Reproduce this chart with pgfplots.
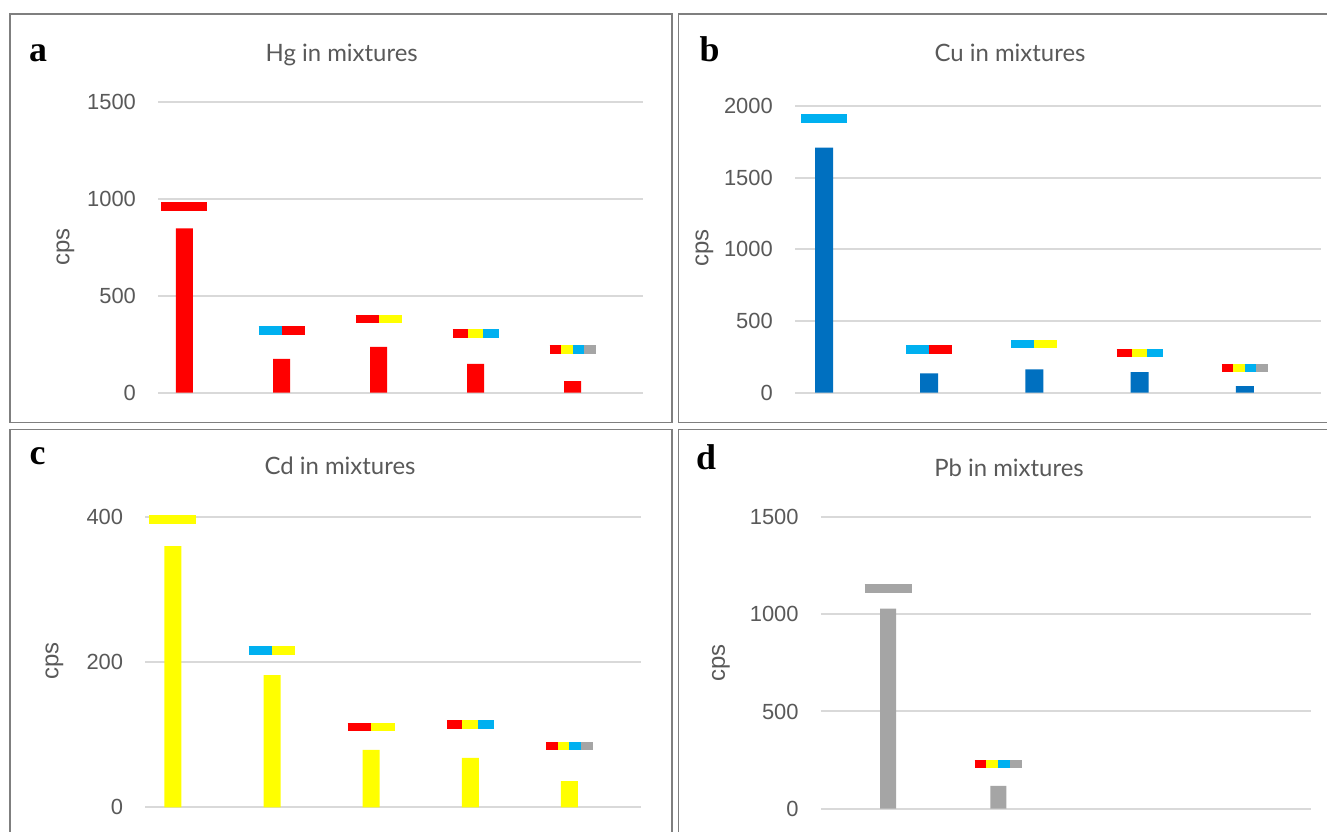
\documentclass[border=0pt]{standalone}
\usepackage{pgfplots}
\pgfplotsset{compat=1.18}
\usepackage{fontspec}
\setmainfont{Liberation Sans}
\newfontfamily\titlefont{Lato}
\newfontfamily\letterfont{Liberation Serif}

\definecolor{hgred}{HTML}{FF0000}
\definecolor{cdyellow}{HTML}{FFFF00}
\definecolor{cucyan}{HTML}{00B0F0}
\definecolor{pbgray}{HTML}{A5A5A5}
\definecolor{cublue}{HTML}{0070C0}
\definecolor{gridgray}{HTML}{D9D9D9}
\definecolor{textgray}{HTML}{595959}
\definecolor{boxgray}{HTML}{7F7F7F}

\pgfplotsset{
  panel/.style={
    scale only axis,
    clip=false,
    axis line style={draw=none},
    major tick style={draw=none},
    xtick=\empty,
    ymin=0,
    ymajorgrids,
    grid style={color=gridgray, line width=2bp},
    yticklabel style={font=\fontsize{22}{24}\selectfont, text=textgray,
      anchor=east, inner sep=0pt, xshift=-22bp},
    /pgf/number format/assume math mode=true,
    /pgf/number format/1000 sep={},
  },
  strip/.style={line width=8.5bp, line cap=butt, #1},
  column/.style={ybar, bar shift=0pt, draw=none, fill=#1},
}

\begin{document}
\begin{tikzpicture}
\useasboundingbox (0,0) rectangle (1327bp,832bp);
\clip (0,0) rectangle (1327bp,832bp);
\fill[white] (0,0) rectangle (1327bp,832bp);

% panel frames
\draw[boxgray, line width=1.5bp] (10bp,818bp) rectangle (672bp,409.3bp);
\draw[boxgray, line width=1.5bp] (678.7bp,818bp) rectangle (1345bp,409.3bp);
\draw[boxgray, line width=1.5bp] (10bp,402.7bp) rectangle (672bp,-20bp);
\draw[boxgray, line width=1.5bp] (678.7bp,402.7bp) rectangle (1345bp,-20bp);

% ---------------- a: Hg ----------------
\begin{axis}[panel, at={(158.1bp,439.3bp)}, anchor=south west,
  width=485.1bp, height=291bp, xmin=0.728, xmax=5.728,
  ymax=1500, ytick={0,500,1000,1500}]
\addplot[column=hgred, bar width=17bp] coordinates {(1,847) (2,174) (3,236) (4,148) (5,60)};
\addplot[strip=hgred]    coordinates {(0.763,961) (1.237,961)};
\addplot[strip=cucyan]   coordinates {(1.763,321) (2.000,321)};
\addplot[strip=hgred]    coordinates {(2.000,321) (2.237,321)};
\addplot[strip=hgred]    coordinates {(2.763,381) (3.000,381)};
\addplot[strip=cdyellow] coordinates {(3.000,381) (3.237,381)};
\addplot[strip=hgred]    coordinates {(3.763,306) (3.921,306)};
\addplot[strip=cdyellow] coordinates {(3.921,306) (4.079,306)};
\addplot[strip=cucyan]   coordinates {(4.079,306) (4.237,306)};
\addplot[strip=hgred]    coordinates {(4.763,223) (4.882,223)};
\addplot[strip=cdyellow] coordinates {(4.882,223) (5.000,223)};
\addplot[strip=cucyan]   coordinates {(5.000,223) (5.118,223)};
\addplot[strip=pbgray]   coordinates {(5.118,223) (5.237,223)};
\end{axis}

% ---------------- b: Cu ----------------
\begin{axis}[panel, at={(795bp,439.3bp)}, anchor=south west,
  width=526bp, height=286.7bp, xmin=0.724, xmax=5.724,
  ymax=2000, ytick={0,500,1000,1500,2000}]
\addplot[column=cublue, bar width=18bp] coordinates {(1,1710) (2,135) (3,163) (4,144) (5,45)};
\addplot[strip=cucyan]   coordinates {(0.781,1911) (1.219,1911)};
\addplot[strip=cucyan]   coordinates {(1.781,303) (2.000,303)};
\addplot[strip=hgred]    coordinates {(2.000,303) (2.219,303)};
\addplot[strip=cucyan]   coordinates {(2.781,341) (3.000,341)};
\addplot[strip=cdyellow] coordinates {(3.000,341) (3.219,341)};
\addplot[strip=hgred]    coordinates {(3.781,277) (3.927,277)};
\addplot[strip=cdyellow] coordinates {(3.927,277) (4.073,277)};
\addplot[strip=cucyan]   coordinates {(4.073,277) (4.219,277)};
\addplot[strip=hgred]    coordinates {(4.781,174) (4.890,174)};
\addplot[strip=cdyellow] coordinates {(4.890,174) (5.000,174)};
\addplot[strip=cucyan]   coordinates {(5.000,174) (5.110,174)};
\addplot[strip=pbgray]   coordinates {(5.110,174) (5.219,174)};
\end{axis}

% ---------------- c: Cd ----------------
\begin{axis}[panel, at={(145.3bp,24.7bp)}, anchor=south west,
  width=495.7bp, height=290.3bp, xmin=0.722, xmax=5.722,
  ymax=400, ytick={0,200,400}]
\addplot[column=cdyellow, bar width=17bp] coordinates {(1,360) (2,182) (3,79) (4,68) (5,36)};
\addplot[strip=cdyellow] coordinates {(0.763,396.5) (1.237,396.5)};
\addplot[strip=cucyan]   coordinates {(1.763,216) (2.000,216)};
\addplot[strip=cdyellow] coordinates {(2.000,216) (2.237,216)};
\addplot[strip=hgred]    coordinates {(2.763,110.4) (3.000,110.4)};
\addplot[strip=cdyellow] coordinates {(3.000,110.4) (3.237,110.4)};
\addplot[strip=hgred]    coordinates {(3.763,113.8) (3.921,113.8)};
\addplot[strip=cdyellow] coordinates {(3.921,113.8) (4.079,113.8)};
\addplot[strip=cucyan]   coordinates {(4.079,113.8) (4.237,113.8)};
\addplot[strip=hgred]    coordinates {(4.763,84.7) (4.882,84.7)};
\addplot[strip=cdyellow] coordinates {(4.882,84.7) (5.000,84.7)};
\addplot[strip=cucyan]   coordinates {(5.000,84.7) (5.118,84.7)};
\addplot[strip=pbgray]   coordinates {(5.118,84.7) (5.237,84.7)};
\end{axis}

% ---------------- d: Pb ----------------
\begin{axis}[panel, at={(820.8bp,23.3bp)}, anchor=south west,
  width=490.2bp, height=291.7bp, xmin=0.387, xmax=4.843,
  ymax=1500, ytick={0,500,1000,1500}]
\addplot[column=pbgray, bar width=16bp] coordinates {(1,1029) (2,118)};
\addplot[strip=pbgray]   coordinates {(0.786,1133) (1.214,1133)};
\addplot[strip=hgred]    coordinates {(1.786,229) (1.893,229)};
\addplot[strip=cdyellow] coordinates {(1.893,229) (2.000,229)};
\addplot[strip=cucyan]   coordinates {(2.000,229) (2.107,229)};
\addplot[strip=pbgray]   coordinates {(2.107,229) (2.214,229)};
\end{axis}

% panel letters
\begin{scope}[every node/.style={font=\letterfont\bfseries\fontsize{36}{36}\selectfont, anchor=base, inner sep=0pt}]
\node at (38bp,770bp) {a};
\node at (709.5bp,770bp) {b};
\node at (37.5bp,367bp) {c};
\node at (706bp,362bp) {d};
\end{scope}

% titles
\begin{scope}[every node/.style={font=\titlefont\fontsize{24}{26}\selectfont, text=textgray, anchor=base, inner sep=0pt}]
\node at (341.7bp,770.3bp) {Hg in mixtures};
\node at (1010bp,770.3bp) {Cu in mixtures};
\node at (340bp,357bp) {Cd in mixtures};
\node at (1009bp,355bp) {Pb in mixtures};
\end{scope}

% y-axis labels
\begin{scope}[every node/.style={font=\fontsize{24}{26}\selectfont, text=textgray, rotate=90, inner sep=0pt}]
\node at (65.5bp,585.3bp) {cps};
\node at (704.5bp,584bp) {cps};
\node at (54.5bp,171bp) {cps};
\node at (721bp,169bp) {cps};
\end{scope}
\end{tikzpicture}
\end{document}
